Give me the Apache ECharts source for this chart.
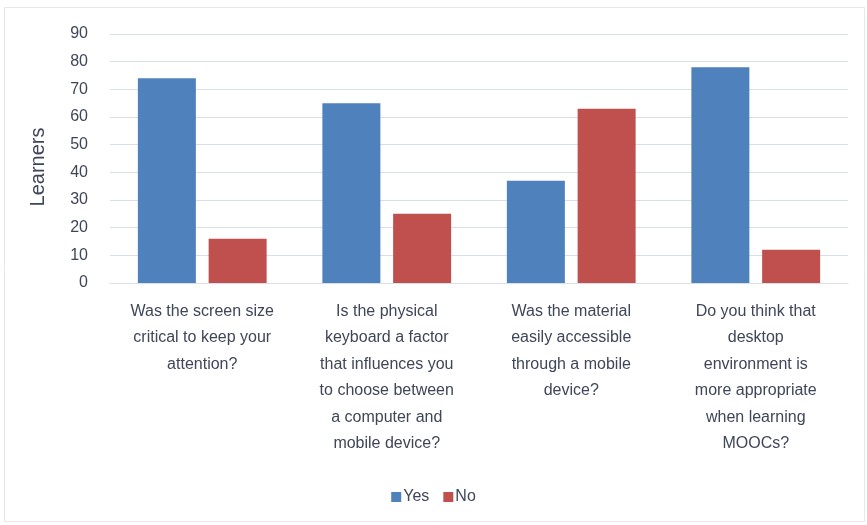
<!DOCTYPE html>
<html>
<head>
<meta charset="utf-8">
<style>
  html, body { margin: 0; padding: 0; background: #ffffff; }
  #chart { width: 867px; height: 525px; }
</style>
<script src="https://cdn.jsdelivr.net/npm/echarts@6/dist/echarts.min.js"></script>
</head>
<body>
<div id="chart"></div>
<script>
// Survey questions (x-axis categories, wrapped into lines)
const categories = [
  'Was the screen size\ncritical to keep your\nattention?',
  'Is the physical\nkeyboard a factor\nthat influences you\nto choose between\na computer and\nmobile device?',
  'Was the material\neasily accessible\nthrough a mobile\ndevice?',
  'Do you think that\ndesktop\nenvironment is\nmore appropriate\nwhen learning\nMOOCs?'
];
// Number of learners answering each way
const yesValues = [74, 65, 37, 78];
const noValues = [16, 25, 63, 12];

const textColor = '#3f4659';
const font = 'Liberation Sans';

const chart = echarts.init(document.getElementById('chart'));
chart.setOption({
  backgroundColor: '#ffffff',
  animation: false,
  textStyle: { fontFamily: font },
  graphic: [{
    type: 'rect',
    shape: { x: 4.5, y: 7.5, width: 860, height: 514 },
    style: { fill: 'none', stroke: '#e3e8ef', lineWidth: 1 },
    silent: true
  }],
  grid: { left: 110, right: 19, top: 34, bottom: 242 },
  legend: {
    bottom: 15,
    left: 'center',
    itemWidth: 10,
    itemHeight: 10,
    itemGap: 14,
    icon: 'rect',
    textStyle: { color: textColor, fontSize: 16, fontFamily: font, padding: [0, 0, 0, -3] },
    data: ['Yes', 'No']
  },
  xAxis: {
    type: 'category',
    data: categories,
    axisLine: { show: true, lineStyle: { color: '#d9dfe8', width: 1 } },
    axisTick: { show: false },
    axisLabel: {
      interval: 0,
      color: textColor,
      fontSize: 16,
      lineHeight: 26.5,
      margin: 15,
      fontFamily: font
    }
  },
  yAxis: {
    type: 'value',
    min: 0,
    max: 90,
    interval: 10,
    name: 'Learners',
    nameLocation: 'middle',
    nameGap: 62,
    nameRotate: 90,
    nameTextStyle: { color: textColor, fontSize: 20, fontFamily: font, padding: [0, 17, 0, 0] },
    axisLine: { show: false },
    axisTick: { show: false },
    axisLabel: { color: textColor, fontSize: 16, margin: 22, fontFamily: font },
    splitLine: { lineStyle: { color: '#d9dfe8', width: 1 } }
  },
  series: [
    {
      name: 'Yes',
      type: 'bar',
      data: yesValues,
      barWidth: 58,
      barGap: '22%',
      itemStyle: { color: '#4f81bd' }
    },
    {
      name: 'No',
      type: 'bar',
      data: noValues,
      barWidth: 58,
      itemStyle: { color: '#c0504d' }
    }
  ]
});
</script>
</body>
</html>
